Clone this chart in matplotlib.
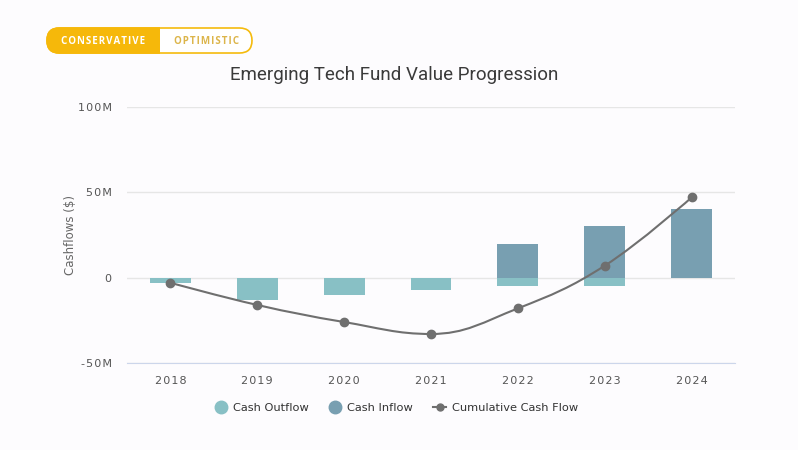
import numpy as np
import matplotlib.pyplot as plt
from matplotlib.path import Path
from matplotlib.patches import PathPatch, FancyBboxPatch, Rectangle
from matplotlib.lines import Line2D

# data (millions)
years = ['2018', '2019', '2020', '2021', '2022', '2023', '2024']
cash_outflow = [-3, -13, -10, -7, -5, -5, 0]
cash_inflow = [0, 0, 0, 0, 20, 30, 40]
cumulative = [-3, -16, -26, -33, -18, 7, 47]
y_ticks = [-50, 0, 50, 100]
y_tick_labels = ['-50M', '0', '50M', '100M']

c_out = '#88c0c5'
c_in = '#789fb1'
c_line = '#6f6f6f'
bg = '#fdfcfe'


def spline_path(xs, ys, smoothing=1.5, denom=2.5):
    # highcharts-like spline control points
    verts = [(xs[0], ys[0])]
    codes = [Path.MOVETO]
    n = len(xs)
    left = [None] * n
    right = [None] * n
    for i in range(1, n - 1):
        x, y = xs[i], ys[i]
        lx, ly = xs[i - 1], ys[i - 1]
        nx, ny = xs[i + 1], ys[i + 1]
        lcx = (smoothing * x + lx) / denom
        lcy = (smoothing * y + ly) / denom
        rcx = (smoothing * x + nx) / denom
        rcy = (smoothing * y + ny) / denom
        corr = ((rcy - lcy) * (rcx - x)) / (rcx - lcx) + y - rcy
        lcy += corr
        rcy += corr
        if lcy > max(ly, y):
            lcy = max(ly, y)
            rcy = 2 * y - lcy
        elif lcy < min(ly, y):
            lcy = min(ly, y)
            rcy = 2 * y - lcy
        if rcy > max(ny, y):
            rcy = max(ny, y)
            lcy = 2 * y - rcy
        elif rcy < min(ny, y):
            rcy = min(ny, y)
            lcy = 2 * y - rcy
        left[i] = (lcx, lcy)
        right[i] = (rcx, rcy)
    for i in range(1, n):
        c1 = right[i - 1] if right[i - 1] else (xs[i - 1], ys[i - 1])
        c2 = left[i] if left[i] else (xs[i], ys[i])
        verts += [c1, c2, (xs[i], ys[i])]
        codes += [Path.CURVE4] * 3
    return Path(verts, codes)


fig = plt.figure(figsize=(7.98, 4.5), dpi=100, facecolor=bg)

# toggle buttons on top
top = fig.add_axes([0, 0, 1, 1], zorder=5)
top.set_xlim(0, 798)
top.set_ylim(450, 0)
top.axis('off')
pill = FancyBboxPatch((47 + 12.5, 28 + 12.5), 205 - 25, 0.01,
                      boxstyle='round,pad=12.5', facecolor='white',
                      edgecolor='#f5bb0e', lw=1.2)
top.add_patch(pill)
fill = FancyBboxPatch((47 + 12.5, 28 + 12.5), 205 - 25, 0.01,
                      boxstyle='round,pad=12.5', facecolor='#f6b80a',
                      edgecolor='#f6b80a', lw=1.2)
top.add_patch(fill)
clip = Rectangle((40, 20), 160 - 40, 40, transform=top.transData)
fill.set_clip_path(clip)
sp = '\u200a'
top.text(103, 41, sp.join('CONSERVATIVE'), color='white', fontsize=7, fontweight='bold',
         ha='center', va='center', family='Open Sans')
top.text(206, 41, sp.join('OPTIMISTIC'), color='#dcb54a', fontsize=7, fontweight='bold',
         ha='center', va='center', family='Open Sans')

# main chart
ax = fig.add_axes([127 / 798, (450 - 363) / 450, (735 - 127) / 798, (363 - 107) / 450])
ax.set_facecolor(bg)
x = np.arange(len(years))
ax.bar(x, cash_outflow, width=0.47, color=c_out, zorder=2)
ax.bar(x, cash_inflow, width=0.47, color=c_in, zorder=2)
ax.add_patch(PathPatch(spline_path(list(x), cumulative), facecolor='none',
                       edgecolor=c_line, lw=1.5, zorder=3))
ax.plot(x, cumulative, 'o', color=c_line, ms=6, zorder=4)

ax.set_xlim(-0.5, 6.5)
ax.set_ylim(-50, 100)
ax.set_yticks(y_ticks)
ax.set_xticks(x)
ax.set_xticklabels([sp.join(t) for t in years])
ax.set_yticklabels([sp.join(t) for t in y_tick_labels])
ax.grid(axis='y', color='#e6e6e6', lw=1, zorder=0)
for s in ['top', 'right', 'left']:
    ax.spines[s].set_visible(False)
ax.spines['bottom'].set_color('#ccd6eb')
ax.tick_params(axis='y', length=0, pad=11, labelsize=8, labelcolor='#555555')
ax.tick_params(axis='x', length=0, pad=9, labelsize=8, labelcolor='#555555')
ax.set_ylabel('Cashflows ($)', fontsize=8.5, color='#666666')
ax.yaxis.set_label_coords(-0.082, 0.5)

fig.text(0.494, 1 - 75 / 450, 'Emerging Tech Fund Value Progression',
         fontsize=13.5, color='#3a3a3a', ha='center', va='center',
         family='Roboto')

handles = [
    Line2D([], [], ls='none', marker='o', ms=9, color=c_out),
    Line2D([], [], ls='none', marker='o', ms=9, color=c_in),
    Line2D([], [], color=c_line, marker='o', ms=5, lw=1.5),
]
fig.legend(handles, ['Cash Outflow', 'Cash Inflow', 'Cumulative Cash Flow'],
           loc='center', bbox_to_anchor=(396 / 798, 1 - 408 / 450), ncol=3,
           frameon=False, fontsize=8.2, handlelength=1.1, handletextpad=0.5,
           columnspacing=1.8, labelcolor='#333333')

fig.savefig('out.png', dpi=100, facecolor=bg)
